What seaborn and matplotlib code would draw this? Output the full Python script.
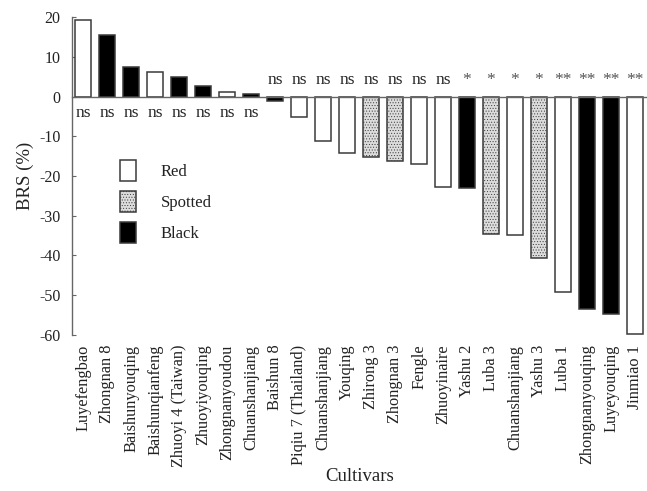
import matplotlib
matplotlib.use("Agg")
import matplotlib.pyplot as plt
from matplotlib.patches import Patch
import seaborn as sns
import pandas as pd

# Relative change in BRS per cultivar, grouped by seed-coat colour
cultivars = [
    "Luyefengbao", "Zhongnan 8", "Baishunyouqing", "Baishunqianfeng",
    "Zhuoyi 4 (Taiwan)", "Zhuoyiyouqing", "Zhongnanyoudou", "Chuanshanjiang",
    "Baishun 8", "Piqiu 7 (Thailand)", "Chuanshanjiang", "Youqing",
    "Zhirong 3", "Zhongnan 3", "Fengle", "Zhuoyinaire", "Yashu 2", "Luba 3",
    "Chuanshanjiang", "Yashu 3", "Luba 1", "Zhongnanyouqing", "Luyeyouqing",
    "Jinmiao 1",
]
brs = [
    19.3, 15.4, 7.5, 6.3, 4.9, 2.6, 1.2, 0.7,
    -1.0, -5.2, -11.2, -14.2, -15.2, -16.1, -17.0, -22.7, -23.1, -34.7,
    -34.8, -40.7, -49.2, -53.4, -54.8, -59.8,
]
colour = [
    "Red", "Black", "Black", "Red", "Black", "Black", "Red", "Black",
    "Black", "Red", "Red", "Red", "Spotted", "Spotted", "Red", "Red",
    "Black", "Spotted", "Red", "Spotted", "Red", "Black", "Black", "Red",
]
significance = [
    "ns", "ns", "ns", "ns", "ns", "ns", "ns", "ns",
    "ns", "ns", "ns", "ns", "ns", "ns", "ns", "ns",
    "*", "*", "*", "*", "**", "**", "**", "**",
]
colour_levels = ["Red", "Spotted", "Black"]
y_ticks = [20, 10, 0, -10, -20, -30, -40, -50, -60]

fills = {"Red": "white", "Spotted": "#dcdcdc", "Black": "black"}
edge = "#3a3a3a"
axis_grey = "#666666"
text_col = "#222222"

sns.set_theme(style="white")
plt.rcParams["font.family"] = ["Liberation Serif", "DejaVu Serif"]
plt.rcParams["axes.unicode_minus"] = False
plt.rcParams["hatch.color"] = "#b0b0b0"
plt.rcParams["hatch.linewidth"] = 0.4

df = pd.DataFrame({"pos": range(len(cultivars)), "brs": brs, "colour": colour})

fig = plt.figure(figsize=(6.47, 4.91), dpi=100)
ax = fig.add_axes([0.111, 0.318, 0.889, 0.647])

sns.barplot(
    data=df, x="pos", y="brs", hue="colour", hue_order=colour_levels,
    palette=fills, dodge=False, width=0.7, edgecolor=edge, linewidth=1.1,
    legend=False, ax=ax,
)
for level, cont in zip(colour_levels, ax.containers):
    for bar in cont:
        if level == "Spotted":
            bar.set_hatch("......")

ax.set_xlim(-0.47, 23.29)
ax.set_ylim(-60, 20)

# Zero line acts as the category axis, with short ticks between bars
for side in ("top", "right"):
    ax.spines[side].set_visible(False)
ax.spines["bottom"].set_position(("data", 0))
ax.spines["bottom"].set_color(axis_grey)
ax.spines["bottom"].set_linewidth(1.0)
ax.spines["left"].set_color(axis_grey)
ax.spines["left"].set_linewidth(1.0)
ax.set_xticks([i + 0.5 for i in range(len(cultivars))], minor=True)
ax.tick_params(axis="x", which="major", length=0, labelbottom=False)
ax.tick_params(axis="x", which="minor", direction="in", length=3,
               width=0.8, color="#999999")
ax.set_yticks(y_ticks)
ax.tick_params(axis="y", direction="in", length=3, width=0.8, color=axis_grey,
               labelsize=11.5, labelcolor=text_col, pad=8, left=True)
ax.set_xlabel("")
ax.set_ylabel("BRS (%)", fontsize=13.5, color=text_col, labelpad=4)

# Cultivar names along the bottom edge
sec = ax.secondary_xaxis("bottom")
sec.set_xticks(range(len(cultivars)), labels=cultivars, rotation=90)
sec.spines["bottom"].set_visible(False)
sec.tick_params(length=0, pad=7, labelsize=11.8, labelcolor=text_col)
sec.set_xlabel("Cultivars", fontsize=13.5, color=text_col, labelpad=1)

# Significance marks: below zero for gains, above zero for losses
for i, (v, s) in enumerate(zip(brs, significance)):
    if v > 0:
        ax.text(i, -2.0, s, ha="center", va="top", fontsize=12.5, color=text_col)
    else:
        ax.text(i, 2.2, s, ha="center", va="bottom", fontsize=12.5,
                color=text_col if s == "ns" else "#555555")

handles = [
    Patch(facecolor=fills[c], edgecolor=edge, linewidth=1.1,
          hatch="......" if c == "Spotted" else None, label=c)
    for c in colour_levels
]
ax.legend(handles=handles, loc="upper left", bbox_to_anchor=(0.058, 0.598),
          frameon=False, fontsize=12, handlelength=0.95, handleheight=1.55,
          handletextpad=1.5, labelspacing=0.6, labelcolor=text_col)

fig.savefig("out.png", dpi=100)
